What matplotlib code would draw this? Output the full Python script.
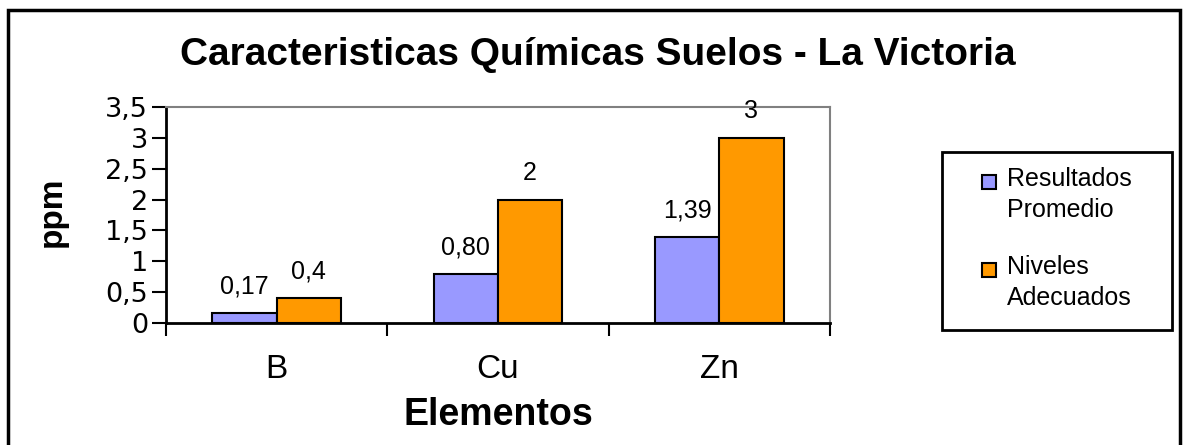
import matplotlib.pyplot as plt
import numpy as np
from matplotlib.patches import Rectangle

plt.rcParams["font.family"] = ["Liberation Sans", "DejaVu Sans"]

elementos = ["B", "Cu", "Zn"]
series_names = ["Resultados\nPromedio", "Niveles\nAdecuados"]
resultados = [0.17, 0.80, 1.39]
niveles = [0.4, 2, 3]
resultados_lbl = ["0,17", "0,80", "1,39"]
niveles_lbl = ["0,4", "2", "3"]
yticks = [0, 0.5, 1, 1.5, 2, 2.5, 3, 3.5]
ytick_lbl = ["0", "0,5", "1", "1,5", "2", "2,5", "3", "3,5"]

W, H = 1183, 445
fig = plt.figure(figsize=(W / 100, H / 100), dpi=100)
ax = fig.add_axes([166 / W, 1 - 323 / H, (830 - 166) / W, (323 - 107) / H])

blue = "#9999FF"
orange = "#FF9900"
x = np.arange(len(elementos))
bw = 0.29
b1 = ax.bar(x - bw / 2, resultados, bw, color=blue, edgecolor="black", linewidth=1.5)
b2 = ax.bar(x + bw / 2, niveles, bw, color=orange, edgecolor="black", linewidth=1.5)

for bars, labels in [(b1, resultados_lbl), (b2, niveles_lbl)]:
    for rect, lbl in zip(bars, labels):
        ax.annotate(lbl, (rect.get_x() + rect.get_width() / 2, rect.get_height()),
                    xytext=(0, 19), textcoords="offset points",
                    ha="center", va="center", fontsize=18)

ax.set_xlim(-0.5, 2.5)
ax.set_ylim(0, 3.5)
ax.set_yticks(yticks)
ax.set_yticklabels(ytick_lbl, fontsize=19.5, family="DejaVu Sans")
ax.tick_params(axis="y", length=10, width=1.5, pad=3)
ax.set_xticks([-0.5, 0.5, 1.5, 2.5])
ax.set_xticklabels([])
ax.tick_params(axis="x", which="major", length=9, width=1.5)
ax.set_xticks(x, minor=True)
ax.set_xticklabels(elementos, minor=True, fontsize=24)
ax.tick_params(axis="x", which="minor", length=0, pad=22)

for side in ["left", "bottom"]:
    ax.spines[side].set_linewidth(2)
for side in ["top", "right"]:
    ax.spines[side].set_color("#808080")
    ax.spines[side].set_linewidth(1.5)

fig.text(598 / W, 1 - 65 / H, "Caracteristicas Químicas Suelos - La Victoria",
         ha="center", va="baseline", fontsize=28, fontweight="bold")
fig.text(498 / W, 1 - 415 / H, "Elementos", ha="center", va="center",
         fontsize=27, fontweight="bold")
fig.text(52 / W, 1 - 212 / H, "ppm", ha="center", va="center", rotation=90,
         fontsize=24, fontweight="bold")

# outer chart frame
fig.patches.append(Rectangle((8 / W, -0.1), (1180 - 8) / W, 1.1 - 10 / H,
                             transform=fig.transFigure, fill=False,
                             edgecolor="black", linewidth=2.5))

# legend box
fig.patches.append(Rectangle((942 / W, 1 - 330 / H), (1172 - 942) / W, (330 - 152) / H,
                             transform=fig.transFigure, fill=False,
                             edgecolor="black", linewidth=2))
for name, color, yc in [(series_names[0], blue, 182), (series_names[1], orange, 270)]:
    fig.patches.append(Rectangle((982 / W, 1 - (yc + 7) / H), 14 / W, 14 / H,
                                 transform=fig.transFigure, facecolor=color,
                                 edgecolor="black", linewidth=1.5))
    fig.text(1007 / W, 1 - (yc - 15) / H, name, ha="left", va="top",
             fontsize=18, linespacing=1.35)

fig.savefig("out.png", dpi=100)
